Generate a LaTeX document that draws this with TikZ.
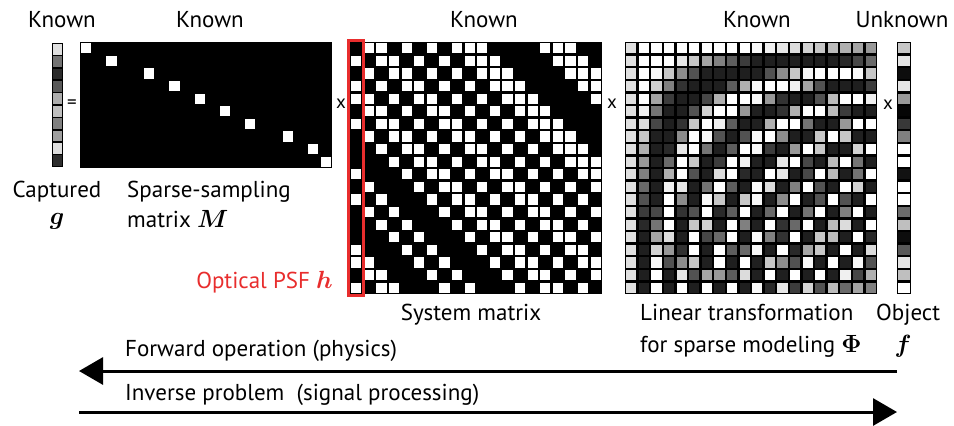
\documentclass[tikz,border=0pt]{standalone}
\usepackage{amsmath,amssymb}
\usepackage{fontspec}
\setmainfont{PT Sans}
\usepackage{tikz}
\tikzset{>=latex}
\usetikzlibrary{positioning, arrows.meta, calc}
\definecolor{psfred}{RGB}{232,45,45}
\tikzset{
  lbl/.style={font=\fontsize{23}{26}\selectfont, inner sep=0pt},
  opsign/.style={font=\fontsize{19}{22}\selectfont, inner sep=0pt},
  bigarrow/.style={line width=3pt, -{Triangle[length=24pt,width=27pt]}},
}
\newcommand{\psfcol}{{0,1,0,1,1,0,1,0,0,0,1,0,1,0,0,0,1,1,0,1}}
\newcommand{\sysrow}{{0,1,1,0,1,0,1,0,1,1,1,0,0,0,0,1,1,1,0,0}}

\begin{document}
\begin{tikzpicture}[x=1pt,y=-1pt]
    \useasboundingbox (0,0) rectangle (954,426);

    % captured g
    \fill[black] (52,43) rectangle (63,167);
    \foreach \gv [count=\i from 0] in {0.88,0.45,0.17,0.35,0.68,0.75,0.5,0.62,0.87,0.18} {
        \pgfmathsetmacro{\p}{100*\gv}
        \fill[white!\p!black] (53,{43+12.4*\i+0.8}) rectangle ++(9,10.8);
    }

    % sparse-sampling matrix M
    \fill[black] (80,42) rectangle (332,168);
    \foreach \r/\c in {0/0,1/2,2/5,3/7,4/9,5/11,6/13,7/16,8/18,9/19}
        \fill[white] ({80+12.6*\c+1.2},{42+12.6*\r+1.2}) rectangle ++(10.2,10.2);

    % system matrix
    \fill[black] (350,42) rectangle (602,294);
    \foreach \i in {0,...,19} {
        \foreach \j in {0,...,19} {
            \pgfmathtruncatemacro{\m}{abs(\i-\j)}
            \ifnum\i<\j
                \pgfmathtruncatemacro{\b}{\sysrow[\m]}
            \else
                \pgfmathtruncatemacro{\b}{\psfcol[\m]}
            \fi
            \ifnum\b=1
                \fill[white] ({350+12.6*\j+1.2},{42+12.6*\i+1.2}) rectangle ++(10.2,10.2);
            \fi
        }
    }
    \draw[psfred, line width=2.5pt] (348.5,40.5) rectangle (363.5,295.5);

    % linear transformation Phi
    \fill[black] (625,42) rectangle (877,294);
    \foreach \i in {0,...,19} {
        \foreach \k in {0,...,19} {
            \ifnum\k=0
                \def\cv{0.55}
            \else
                \pgfmathsetmacro{\cv}{cos(4.5*(2*\i+1)*\k)}
            \fi
            \pgfmathsetmacro{\p}{100*max(0.12,min(1,0.55+0.6*\cv))}
            \fill[white!\p!black] ({625+12.6*\k+1.2},{42+12.6*\i+1.2}) rectangle ++(10.2,10.2);
        }
    }

    % object f
    \fill[black] (897,42) rectangle (911,294);
    \foreach \gv [count=\i from 0] in {0.78,0.9,0.05,0.9,0.6,0.02,0.22,0.5,1,1,0.07,1,1,0.42,0.75,0.05,0.35,0.9,0.75,1} {
        \pgfmathsetmacro{\p}{100*\gv}
        \fill[white!\p!black] (898.2,{42+12.6*\i+1.2}) rectangle ++(11.6,10.2);
    }

    \node[lbl, anchor=base] (knownG) at (62,27) {Known};
    \node[lbl, anchor=base] (knownM) at (210,27) {Known};
    \node[lbl, anchor=base] (knownA) at (484,27) {Known};
    \node[lbl, anchor=base] (knownPhi) at (757,27) {Known};
    \node[lbl, anchor=base] (unknownF) at (902,27) {Unknown};

    \node[opsign] (eqsign) at (72,104) {=};
    \node[opsign] (times1) at (341,104) {x};
    \node[opsign] (times2) at (612,104) {x};
    \node[opsign] (times3) at (888,105) {x};

    \node[lbl, anchor=base] (captured) at (57,197) {Captured};
    \node[lbl, anchor=base] (glabel) at (57,224) {$\boldsymbol{g}$};
    \node[lbl, anchor=base west] (sparse) at (127,197) {Sparse-sampling};
    \node[lbl, anchor=base west] (mlabel) at (127,227) {matrix $\boldsymbol{M}$};
    \node[lbl, anchor=base east, text=psfred] (psf) at (333,288) {Optical PSF $\boldsymbol{h}$};
    \node[lbl, anchor=base] (sysmat) at (471,320) {System matrix};
    \node[lbl, anchor=base west] (lintr) at (640,320) {Linear transformation};
    \node[lbl, anchor=base west] (lintrb) at (640,352) {for sparse modeling $\boldsymbol{\Phi}$};
    \node[lbl, anchor=base west] (object) at (876,320) {Object};
    \node[lbl, anchor=base] (flabel) at (903,352) {$\boldsymbol{f}$};

    \node[lbl, anchor=base west] (forward) at (125,356) {Forward operation (physics)};
    \node[lbl, anchor=base west] (inverse) at (125,400) {Inverse problem \ (signal processing)};

    \coordinate (fwdR) at (897,371);
    \coordinate (fwdL) at (79,371);
    \coordinate (invL) at (79,412);
    \coordinate (invR) at (897,412);
    \draw[bigarrow] (fwdR) -- (fwdL);
    \draw[bigarrow] (invL) -- (invR);
\end{tikzpicture}
\end{document}
